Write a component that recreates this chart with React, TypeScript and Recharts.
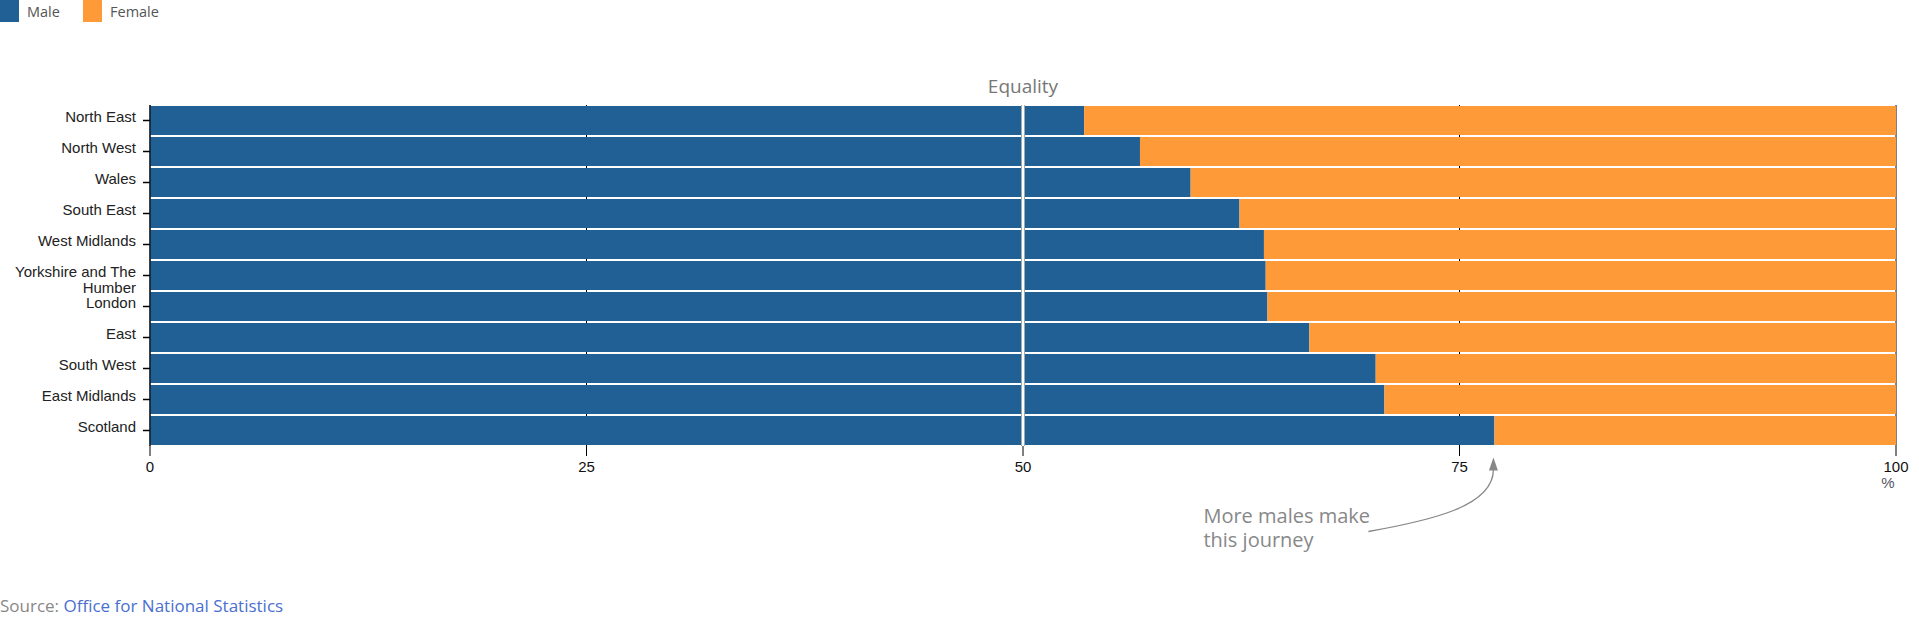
import React from 'react'
import {
   BarChart,
   Bar,
   XAxis,
   YAxis,
   CartesianGrid,
   ReferenceLine,
   ReferenceDot,
} from 'recharts'

const regions = [
   'North East',
   'North West',
   'Wales',
   'South East',
   'West Midlands',
   'Yorkshire and The Humber',
   'London',
   'East',
   'South West',
   'East Midlands',
   'Scotland',
]
const maleShare = [53.5, 56.7, 59.6, 62.4, 63.8, 63.9, 64.0, 66.4, 70.2, 70.7, 77.0]
const femaleShare = [46.5, 43.3, 40.4, 37.6, 36.2, 36.1, 36.0, 33.6, 29.8, 29.3, 23.0]
const percentTicks = [0, 25, 50, 75, 100]

const data = regions.map((region, i) => ({
   region,
   male: maleShare[i],
   female: femaleShare[i],
}))

const MALE = '#206095'
const FEMALE = '#fe9a37'
const SANS = '"Open Sans", sans-serif'
const ARIAL = 'Arial, "Liberation Sans", sans-serif'

// greedy word wrap for the long region names
const wrap = (s: string, max = 18) => {
   const lines: string[] = []
   let cur = ''
   s.split(' ').forEach((w) => {
      const next = cur ? cur + ' ' + w : w
      if (next.length > max && cur) {
         lines.push(cur)
         cur = w
      } else cur = next
   })
   if (cur) lines.push(cur)
   return lines
}

const RegionTick = (props: any) => {
   const { x, y, payload } = props
   const lines = wrap(String(payload.value))
   return (
      <text x={x} y={y - 4} textAnchor="end" fontFamily={ARIAL} fontSize={15} fill="#222">
         {lines.map((l, i) => (
            <tspan key={i} x={x} dy={i === 0 ? '0.355em' : 16}>
               {l}
            </tspan>
         ))}
      </text>
   )
}

const EqualityLabel = (props: any) => {
   const vb = props.viewBox || {}
   return (
      <text x={vb.x} y={vb.y - 12} textAnchor="middle" fontFamily={SANS} fontSize={19} fill="#777">
         Equality
      </text>
   )
}

const PercentLabel = (props: any) => {
   const vb = props.viewBox || {}
   return (
      <text x={vb.x + vb.width - 8} y={vb.y + 42} textAnchor="middle" fontFamily={ARIAL} fontSize={15} fill="#556">
         %
      </text>
   )
}

const JourneyNote = (props: any) => {
   const { cx, cy } = props
   if (cx == null || cy == null) return null
   const tipX = cx - 1
   const tipY = cy + 27
   return (
      <g>
         <path
            d={`M ${cx - 126} ${cy + 101} C ${cx - 64} ${cy + 90}, ${tipX} ${cy + 76}, ${tipX} ${tipY + 12}`}
            fill="none"
            stroke="#888"
            strokeWidth={1.3}
         />
         <path d={`M ${tipX} ${tipY} L ${tipX + 4.5} ${tipY + 13} L ${tipX - 4.5} ${tipY + 13} Z`} fill="#888" />
         <text x={cx - 291} y={cy + 92} fontFamily={SANS} fontSize={20} fill="#888">
            <tspan x={cx - 291}>More males make</tspan>
            <tspan x={cx - 291} dy={24}>
               this journey
            </tspan>
         </text>
      </g>
   )
}

const Legend = () => (
   <div style={{ position: 'absolute', left: 0, top: 0, fontFamily: SANS, fontSize: 14.5, color: '#555' }}>
      <div style={{ position: 'absolute', left: 0, top: 0, width: 19, height: 22, background: MALE }} />
      <div style={{ position: 'absolute', left: 27, top: 2, lineHeight: '20px' }}>Male</div>
      <div style={{ position: 'absolute', left: 83, top: 0, width: 19, height: 22, background: FEMALE }} />
      <div style={{ position: 'absolute', left: 110, top: 2, lineHeight: '20px', whiteSpace: 'nowrap' }}>Female</div>
   </div>
)

export default function App() {
   return (
      <div style={{ position: 'absolute', left: 0, top: 0, width: 1919, height: 627, background: '#fff' }}>
         <BarChart
            width={1919}
            height={627}
            data={data}
            layout="vertical"
            margin={{ top: 100, right: 23, bottom: 151, left: 0 }}
            barCategoryGap={1}
         >
            <CartesianGrid xAxisId="bottom" horizontal={false} stroke="#000" />
            <XAxis
               xAxisId="bottom"
               type="number"
               domain={[0, 100]}
               ticks={percentTicks}
               axisLine={false}
               tickSize={10}
               tickMargin={5}
               tickLine={{ stroke: '#000' }}
               tick={{ fill: '#111', fontSize: 15, fontFamily: ARIAL }}
               height={30}
               label={<PercentLabel />}
            />
            <XAxis
               xAxisId="top"
               orientation="top"
               type="number"
               domain={[0, 100]}
               ticks={percentTicks}
               axisLine={false}
               tickSize={5}
               tickLine={{ stroke: '#000' }}
               tick={false}
               height={5}
            />
            <YAxis
               type="category"
               dataKey="region"
               width={150}
               tickSize={7}
               tickMargin={7}
               interval={0}
               axisLine={{ stroke: '#000' }}
               tickLine={{ stroke: '#000', strokeWidth: 1.5 }}
               tick={<RegionTick />}
            />
            <Bar xAxisId="bottom" dataKey="male" stackId="s" fill={MALE} isAnimationActive={false} />
            <Bar xAxisId="bottom" dataKey="female" stackId="s" fill={FEMALE} isAnimationActive={false} />
            <ReferenceLine xAxisId="bottom" x={50} stroke="#a0a8b0" strokeWidth={4} />
            <ReferenceLine xAxisId="bottom" x={50} stroke="#fff" strokeWidth={2} label={<EqualityLabel />} />
            <ReferenceDot
               xAxisId="bottom"
               x={maleShare[10]}
               y={regions[10]}
               r={0}
               ifOverflow="visible"
               shape={JourneyNote}
            />
         </BarChart>
         <Legend />
         <div
            style={{
               position: 'absolute',
               left: 0,
               top: 595,
               fontFamily: SANS,
               fontSize: 17,
               lineHeight: '22px',
               color: '#888',
               whiteSpace: 'nowrap',
            }}
         >
            Source: <span style={{ color: '#4a6fd0' }}>Office for National Statistics</span>
         </div>
      </div>
   )
}
